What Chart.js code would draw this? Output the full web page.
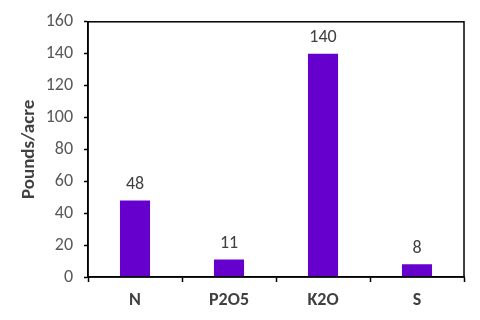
<!DOCTYPE html>
<html>
<head>
<meta charset="utf-8">
<script src="https://cdn.jsdelivr.net/npm/chart.js@4"></script>
<style>
  html, body { margin: 0; padding: 0; background: #fff; }
  #wrap { width: 480px; height: 320px; }
</style>
</head>
<body>
<div id="wrap"><canvas id="chart" width="480" height="320"></canvas></div>
<script>
var categories = ['N', 'P2O5', 'K2O', 'S'];
var pounds = [48, 11, 140, 8];
var yTicks = [0, 20, 40, 60, 80, 100, 120, 140, 160];

var fontFam = 'Carlito, Lato, "Open Sans", sans-serif';

// value labels above each bar
var barLabels = {
    id: 'barLabels',
    afterDatasetsDraw: function (chart) {
        var c = chart.ctx;
        var meta = chart.getDatasetMeta(0);
        c.save();
        c.font = '18px ' + fontFam;
        c.fillStyle = '#404040';
        c.textAlign = 'center';
        c.textBaseline = 'bottom';
        meta.data.forEach(function (bar, i) {
            c.fillText(String(pounds[i]), bar.x, bar.y - 7);
        });
        c.restore();
    }
};

// box around the plot area
var frame = {
    id: 'frame',
    afterDraw: function (chart) {
        var a = chart.chartArea;
        var c = chart.ctx;
        c.save();
        c.strokeStyle = '#000';
        c.lineWidth = 1.5;
        c.strokeRect(a.left, a.top, a.right - a.left, a.bottom - a.top);
        c.restore();
    }
};

var ctx = document.getElementById('chart').getContext('2d');
var myChart = new Chart(ctx, {
    type: 'bar',
    data: {
        labels: categories,
        datasets: [{
            label: 'Pounds/acre',
            data: pounds,
            backgroundColor: '#6600CC',
            borderWidth: 0,
            barPercentage: 0.64,
            categoryPercentage: 0.5
        }]
    },
    options: {
        responsive: false,
        animation: false,
        layout: { padding: { top: 18, right: 16, left: 0, bottom: 0 } },
        plugins: {
            legend: { display: false },
            tooltip: { enabled: false }
        },
        scales: {
            x: {
                afterFit: function (s) { s.height = 43; },
                grid: {
                    display: true,
                    drawOnChartArea: false,
                    drawTicks: true,
                    tickLength: 5,
                    tickColor: '#000',
                    tickWidth: 1.5
                },
                border: { display: true, color: '#000', width: 1.5 },
                ticks: {
                    color: '#404040',
                    padding: 8,
                    font: { family: fontFam, size: 18, weight: 'bold' }
                }
            },
            y: {
                min: 0,
                max: 160,
                afterFit: function (s) { s.width = 88; },
                afterBuildTicks: function (s) {
                    s.ticks = yTicks.map(function (v) { return { value: v }; });
                },
                grid: {
                    display: true,
                    drawOnChartArea: false,
                    drawTicks: true,
                    tickLength: 4,
                    tickColor: '#000',
                    tickWidth: 1.5
                },
                border: { display: true, color: '#000', width: 1.5 },
                ticks: {
                    color: '#595959',
                    padding: 11,
                    font: { family: fontFam, size: 18 }
                },
                title: {
                    display: true,
                    text: 'Pounds/acre',
                    color: '#404040',
                    padding: { top: 18, bottom: 0 },
                    font: { family: fontFam, size: 19, weight: 'bold' }
                }
            }
        }
    },
    plugins: [barLabels, frame]
});
</script>
</body>
</html>
